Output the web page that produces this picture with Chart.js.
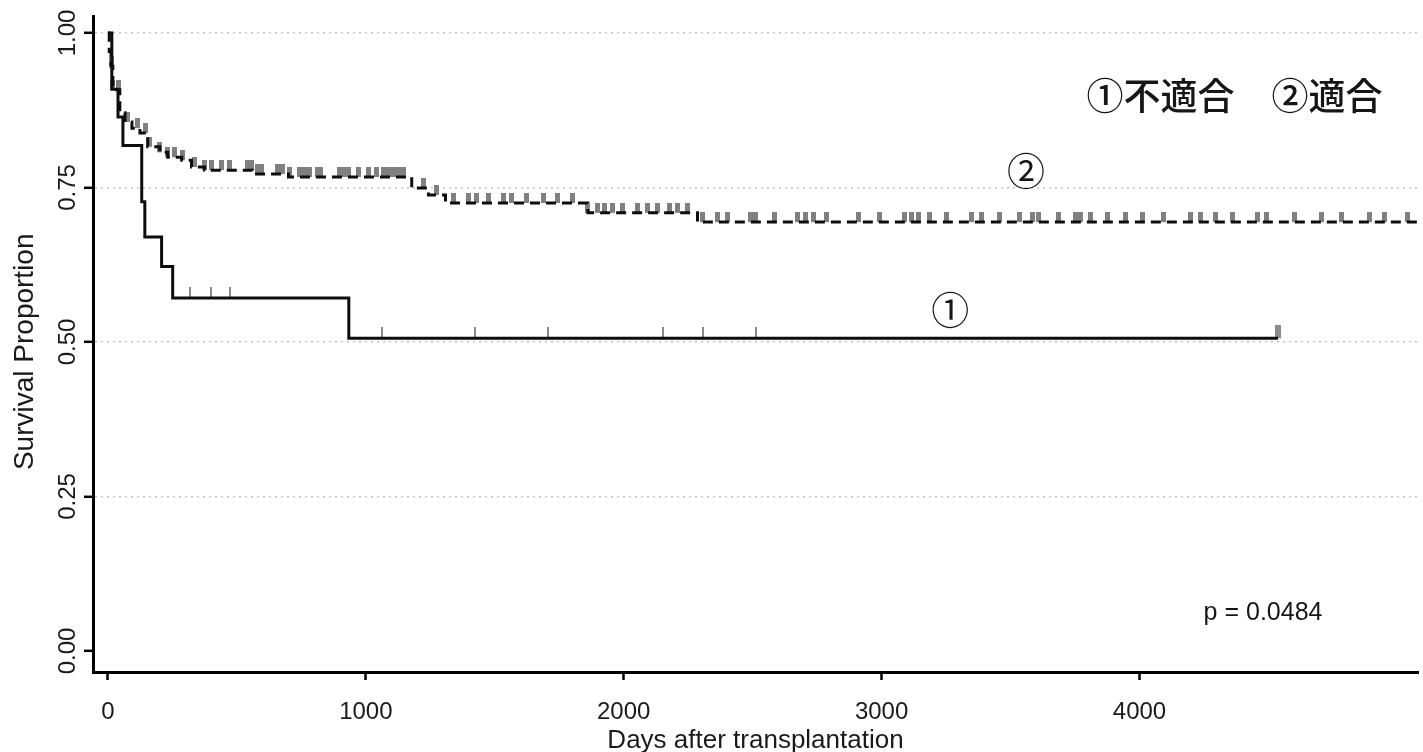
<!DOCTYPE html>
<html><head><meta charset="utf-8">
<script src="https://cdn.jsdelivr.net/npm/chart.js@4.4.0/dist/chart.umd.min.js"></script>
<style>html,body{margin:0;padding:0;background:#fff;overflow:hidden}#wrap{width:1423px;height:752px;position:relative}</style>
</head><body><div id="wrap"><canvas id="c" width="1423" height="752"></canvas></div>
<script>
// ---- data ----
const xTicks = [0, 1000, 2000, 3000, 4000];
const yTicks = [0, 0.25, 0.5, 0.75, 1.0];

// Group ① 不適合 (solid)
const times1 = [0, 15, 39, 58, 131, 143, 208, 251, 934, 4537];
const surv1  = [1.0, 0.909, 0.864, 0.818, 0.727, 0.670, 0.622, 0.571, 0.506, 0.506];
const censor1 = [317, 398, 475, 1062, 1425, 1707, 2151, 2309, 2514];
const censor1Last = [4537];

// Group ② 適合 (dashed)
const times2 = [0, 5, 12, 19, 46, 66, 93, 124, 154, 201, 232, 286, 324, 375, 560, 700, 1178, 1243, 1309, 1861, 2286, 5080];
const surv2  = [1.0, 0.97, 0.946, 0.908, 0.871, 0.856, 0.846, 0.838, 0.816, 0.807, 0.799, 0.794, 0.783, 0.778, 0.772, 0.767, 0.749, 0.738, 0.725, 0.709, 0.694, 0.694];
const censor2 = [12, 19, 39, 77, 116, 147, 162, 201, 232, 259, 290, 336, 375, 402, 440, 471, 541, 556, 579, 595,
  656, 676, 703, 741, 761, 780, 811, 826, 896, 915, 934, 973, 1012, 1042, 1069, 1089, 1108, 1127, 1147,
  1224, 1274, 1340, 1398, 1429, 1475, 1533, 1564, 1622, 1687, 1745, 1803, 1861, 1900, 1927, 1958, 1996,
  2054, 2093, 2131, 2178, 2208, 2247, 2305, 2363, 2402, 2490, 2510, 2583, 2672, 2703, 2734, 2788, 2911,
  2992, 3089, 3116, 3143, 3185, 3251, 3347, 3386, 3456, 3533, 3587, 3610, 3687, 3753, 3772, 3811, 3876,
  3946, 4012, 4093, 4197, 4236, 4293, 4359, 4456, 4494, 4602, 4707, 4784, 4892, 4950, 5039];

const legendText = '①不適合　②適合';
const label1 = '①';
const label2 = '②';
const pText = 'p = 0.0484';
const xTitle = 'Days after transplantation';
const yTitle = 'Survival Proportion  ';

// ---- helpers ----
function stepValue(times, surv, t) {
  let v = surv[0];
  for (let i = 0; i < times.length; i++) { if (times[i] <= t) v = surv[i]; }
  return v;
}
function curve(times, surv) { return times.map((t, i) => ({x: t, y: surv[i]})); }
function marks(list, times, surv) { return list.map(t => ({x: t, y: stepValue(times, surv, t)})); }
function tickImg(w, h, color) {
  const c = document.createElement('canvas');
  c.width = w; c.height = h * 2;
  const g = c.getContext('2d');
  g.fillStyle = color; g.fillRect(0, 0, w, h);
  return c;
}

const annot = {
  id: 'annot',
  afterDraw(chart) {
    const {ctx, scales: {x, y}} = chart;
    ctx.save();
    ctx.fillStyle = '#161616';
    ctx.textBaseline = 'middle';
    ctx.font = '500 37px "Noto Sans CJK JP"';
    ctx.textAlign = 'right';
    ctx.fillText(legendText, x.getPixelForValue(4942), y.getPixelForValue(0.898));
    ctx.textAlign = 'center';
    ctx.font = '38px "Noto Sans CJK JP"';
    ctx.fillText(label2, x.getPixelForValue(3560), y.getPixelForValue(0.778));
    ctx.fillText(label1, x.getPixelForValue(3266), y.getPixelForValue(0.552));
    ctx.font = '25px "Liberation Sans", Arial, sans-serif';
    ctx.fillText(pText, x.getPixelForValue(4479), y.getPixelForValue(0.0615));
    ctx.restore();
  }
};

new Chart(document.getElementById('c'), {
  type: 'scatter',
  data: {
    datasets: [
      {type: 'line', data: curve(times1, surv1), stepped: 'before', borderColor: '#0d0d0d', borderWidth: 3,
       pointRadius: 0, fill: false, order: 1},
      {type: 'line', data: curve(times2, surv2), stepped: 'before', borderColor: '#0d0d0d', borderWidth: 3,
       borderDash: [10, 6], pointRadius: 0, fill: false, order: 1},
      {data: marks(censor1, times1, surv1), pointStyle: tickImg(2, 11, '#8a8a8a'), pointRadius: 3, order: 2},
      {data: marks(censor1Last, times1, surv1), pointStyle: tickImg(6, 13, '#8a8a8a'), pointRadius: 3, order: 2},
      {data: marks(censor2, times2, surv2), pointStyle: tickImg(5, 10, '#808080'), pointRadius: 3, order: 2}
    ]
  },
  options: {
    responsive: false, animation: false, devicePixelRatio: 1,
    layout: {padding: {top: 16, left: 0, right: 0, bottom: 0}},
    plugins: {legend: {display: false}, tooltip: {enabled: false}},
    scales: {
      x: {
        type: 'linear', min: -58, max: 5080,
        afterBuildTicks: s => { s.ticks = xTicks.map(v => ({value: v})); },
        afterFit: s => { s.height = 80; },
        ticks: {color: '#1a1a1a', font: {family: '"Liberation Sans", Arial, sans-serif', size: 24}, padding: 18,
                maxRotation: 0, minRotation: 0, callback: v => String(v)},
        grid: {drawOnChartArea: false, drawTicks: true, tickLength: 8, tickColor: '#000', tickWidth: 2.5, color: '#000'},
        border: {color: '#000', width: 3},
        title: {display: true, text: xTitle, color: '#1a1a1a',
                font: {family: '"Liberation Sans", Arial, sans-serif', size: 26}, padding: {top: 0, bottom: -4}}
      },
      y: {
        type: 'linear', min: -0.034, max: 1.0275,
        afterBuildTicks: s => { s.ticks = yTicks.map(v => ({value: v})); },
        afterFit: s => { s.width = 93; },
        ticks: {color: '#1a1a1a', font: {family: '"Liberation Sans", Arial, sans-serif', size: 24},
                minRotation: 90, maxRotation: 90, crossAlign: 'center', padding: -8,
                callback: v => Number(v).toFixed(2)},
        grid: {color: c => (c.tick && c.tick.value > 0) ? '#c4c4c4' : 'rgba(0,0,0,0)', lineWidth: 1.6,
               drawTicks: true, tickLength: 9, tickColor: '#000', tickWidth: 2.5, tickBorderDash: []},
        border: {color: '#000', width: 3, dash: [2, 4]},
        title: {display: true, text: yTitle, color: '#1a1a1a',
                font: {family: '"Liberation Sans", Arial, sans-serif', size: 28}, padding: {top: 8, bottom: 0}}
      }
    }
  },
  plugins: [annot]
});
</script>
</body></html>
